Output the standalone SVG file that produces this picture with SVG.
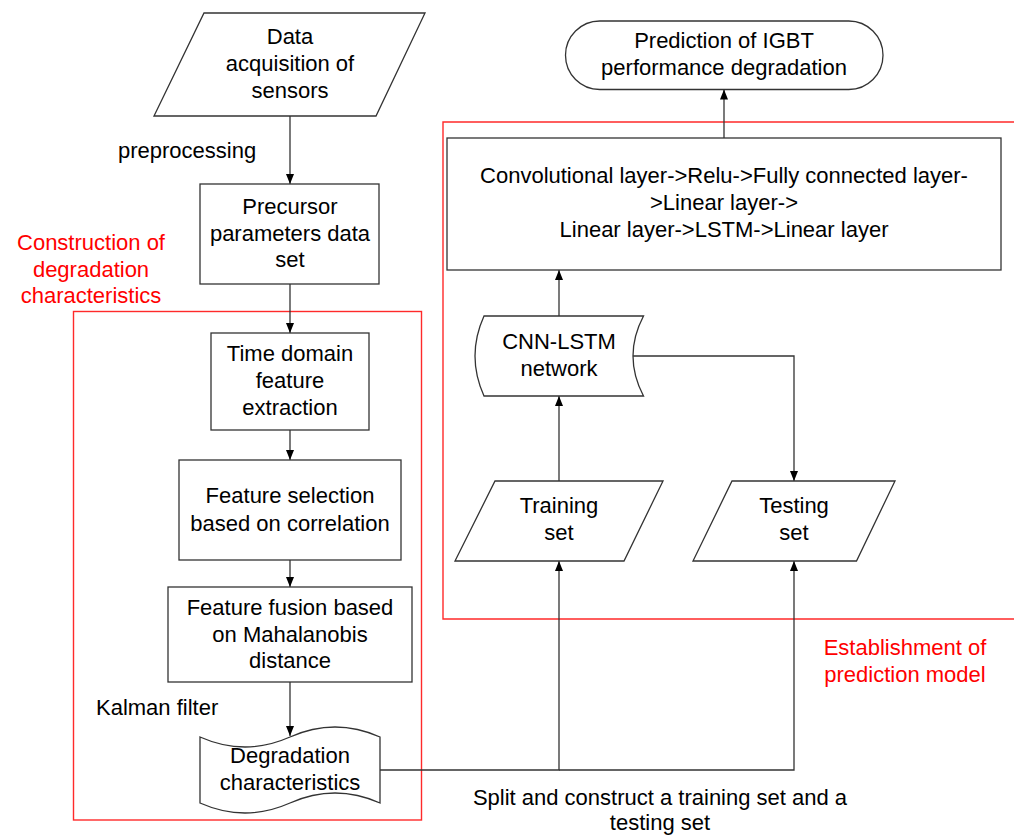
<svg xmlns="http://www.w3.org/2000/svg" width="1014" height="836" viewBox="0 0 1014 836">
<style>
text{font-family:"Liberation Sans",Arial,sans-serif;font-size:22px;fill:#000}
.c{text-anchor:middle}
.r{fill:#ff0000}
.n{fill:#fff;stroke:#333;stroke-width:1.3}
.e{fill:none;stroke:#333;stroke-width:1.3}
.red{fill:none;stroke:#ff2a2a;stroke-width:1.4}
</style>
<defs>
<marker id="a" markerWidth="10" markerHeight="8" refX="10" refY="4" orient="auto" markerUnits="userSpaceOnUse">
<path d="M0,0 L10,4 L0,8 Z" fill="#000"/>
</marker>
</defs>
<rect width="1014" height="836" fill="#fff"/>
<g id="regions">
<rect class="red" x="73.5" y="311.5" width="348" height="508.5"/>
<path class="red" d="M1016,122 H443 V619 H1016"/>
<text class="c r" x="91" y="250">Construction of</text>
<text class="c r" x="91" y="277">degradation</text>
<text class="c r" x="91" y="303">characteristics</text>
<text class="c r" x="905" y="655">Establishment of</text>
<text class="c r" x="905" y="682">prediction model</text>
</g>
<g id="connectors">
<line class="e" x1="290" y1="116" x2="290" y2="184" marker-end="url(#a)"/>
<line class="e" x1="290" y1="284" x2="290" y2="333" marker-end="url(#a)"/>
<line class="e" x1="290" y1="430" x2="290" y2="460" marker-end="url(#a)"/>
<line class="e" x1="290" y1="560" x2="290" y2="587" marker-end="url(#a)"/>
<line class="e" x1="290" y1="682" x2="290" y2="736" marker-end="url(#a)"/>
<polyline class="e" points="380,770 559,770 559,561" marker-end="url(#a)"/>
<polyline class="e" points="559,770 794,770 794,561" marker-end="url(#a)"/>
<line class="e" x1="559" y1="481" x2="559" y2="396" marker-end="url(#a)"/>
<polyline class="e" points="633,356 794,356 794,481" marker-end="url(#a)"/>
<line class="e" x1="559" y1="316" x2="559" y2="270" marker-end="url(#a)"/>
<line class="e" x1="724" y1="138" x2="724" y2="89.5" marker-end="url(#a)"/>
<text x="118" y="158">preprocessing</text>
<text x="96" y="715">Kalman filter</text>
<text class="c" x="660" y="805">Split and construct a training set and a</text>
<text class="c" x="660" y="830">testing set</text>
</g>
<g id="data">
<polygon class="n" points="204,13 425,13 376,116 154,116"/>
<text class="c" x="290" y="44">Data</text>
<text class="c" x="290" y="71">acquisition of</text>
<text class="c" x="290" y="98">sensors</text>
</g>
<g id="precursor">
<rect class="n" x="200" y="184" width="179" height="100"/>
<text class="c" x="290" y="214">Precursor</text>
<text class="c" x="290" y="241">parameters data</text>
<text class="c" x="290" y="267">set</text>
</g>
<g id="timedomain">
<rect class="n" x="211" y="333" width="158" height="97"/>
<text class="c" x="290" y="361">Time domain</text>
<text class="c" x="290" y="388">feature</text>
<text class="c" x="290" y="415">extraction</text>
</g>
<g id="featsel">
<rect class="n" x="179" y="460" width="222" height="100"/>
<text class="c" x="290" y="503">Feature selection</text>
<text class="c" x="290" y="531">based on correlation</text>
</g>
<g id="fusion">
<rect class="n" x="168" y="587" width="244" height="95"/>
<text class="c" x="290" y="615">Feature fusion based</text>
<text class="c" x="290" y="642">on Mahalanobis</text>
<text class="c" x="290" y="668">distance</text>
</g>
<g id="degradation">
<path class="n" d="M200,737 C230,750.3 260,750.3 290,737 C320,723.7 350,723.7 380,737 L380,803 C350,789.7 320,789.7 290,803 C260,816.3 230,816.3 200,803 Z"/>
<text class="c" x="290" y="763">Degradation</text>
<text class="c" x="290" y="790">characteristics</text>
</g>
<g id="prediction">
<rect class="n" x="565.5" y="21" width="317.5" height="68.5" rx="34.25"/>
<text class="c" x="724" y="48">Prediction of IGBT</text>
<text class="c" x="724" y="75">performance degradation</text>
</g>
<g id="layers">
<rect class="n" x="447" y="138" width="554" height="132"/>
<text class="c" x="724" y="183">Convolutional layer-&gt;Relu-&gt;Fully connected layer-</text>
<text class="c" x="724" y="210">&gt;Linear layer-&gt;</text>
<text class="c" x="724" y="237">Linear layer-&gt;LSTM-&gt;Linear layer</text>
</g>
<g id="cnnlstm">
<path class="n" d="M484,316 L643.5,316 Q622.5,356 643.5,396 L484,396 Q466,356 484,316 Z"/>
<text class="c" x="559" y="349">CNN-LSTM</text>
<text class="c" x="559" y="376">network</text>
</g>
<g id="training">
<polygon class="n" points="495,481 663,481 624,561 455,561"/>
<text class="c" x="559" y="513">Training</text>
<text class="c" x="559" y="540">set</text>
</g>
<g id="testing">
<polygon class="n" points="732,481 895,481 856.5,561 693,561"/>
<text class="c" x="794" y="513">Testing</text>
<text class="c" x="794" y="540">set</text>
</g>
</svg>
